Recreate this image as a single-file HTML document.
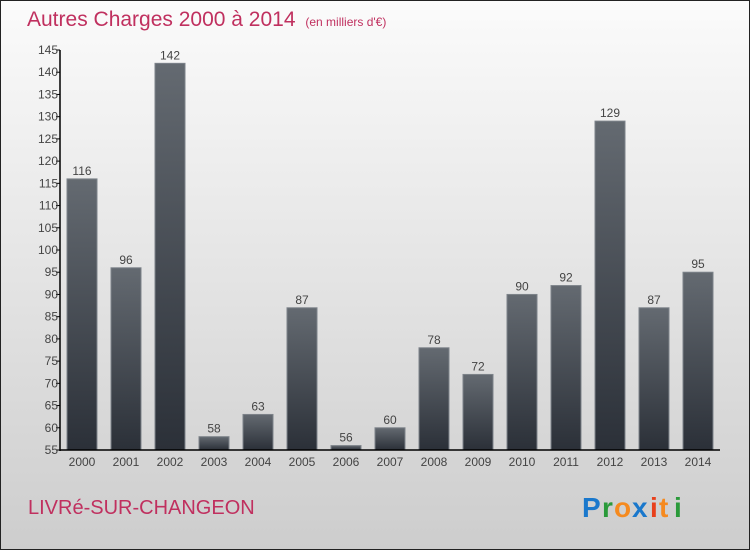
<!DOCTYPE html>
<html><head><meta charset="utf-8"><style>
body{margin:0}
#c{width:750px;height:550px;position:relative;box-sizing:border-box;border:1px solid #222;background:linear-gradient(#fbfbfb,#cdcdcd);font-family:"Liberation Sans",sans-serif;overflow:hidden}
</style></head><body>
<div id="c">
<svg width="750" height="550" style="position:absolute;left:-1px;top:-1px">
<defs><linearGradient id="g" x1="0" y1="0" x2="0" y2="1"><stop offset="0" stop-color="#646a71"/><stop offset="1" stop-color="#2b3038"/></linearGradient></defs>
<text x="27" y="26" font-size="21" fill="#c0305f">Autres Charges 2000 à 2014 <tspan font-size="12" dx="4">(en milliers d'€)</tspan></text>
<g id="plot"></g>
<text x="28" y="514" font-size="20" fill="#c0305f">LIVRé-SUR-CHANGEON</text>
<g font-size="28" font-weight="bold" font-family="Liberation Sans,sans-serif">
<text x="582" y="517" fill="#1a78cc">P</text><text x="602" y="517" fill="#2a9a3a">r</text><text x="614" y="517" fill="#f58a1f">o</text><text x="632" y="517" fill="#1a78cc">x</text><text x="650" y="517" fill="#e8401c">i</text><text x="659" y="517" fill="#f58a1f">t</text><text x="674" y="517" fill="#2a9a3a">i</text></g>
</svg>
</div>
<script>
const categories=["2000","2001","2002","2003","2004","2005","2006","2007","2008","2009","2010","2011","2012","2013","2014"];
const values=[116,96,142,58,63,87,56,60,78,72,90,92,129,87,95];
const yTicks=[55,60,65,70,75,80,85,90,95,100,105,110,115,120,125,130,135,140,145];
const yMin=55,yMax=145,plotTop=50,plotBot=450,x0=60;
const y=v=>plotBot-(v-yMin)/(yMax-yMin)*(plotBot-plotTop);
const xc=i=>82+i*44;
const g=document.getElementById('plot');const NS="http://www.w3.org/2000/svg";
function mk(t,a,txt){const e=document.createElementNS(NS,t);for(const k in a)e.setAttribute(k,a[k]);if(txt!=null)e.textContent=txt;g.appendChild(e);return e;}
values.forEach((v,i)=>{
const r=mk('rect',{x:xc(i)-15,y:y(v),width:30,height:plotBot-y(v),fill:'url(#g)',stroke:'#7d838a','stroke-width':1});


const t=mk('text',{x:xc(i),y:y(v)-4,'text-anchor':'middle','font-size':12,fill:'#444'},String(v));


const c=mk('text',{x:xc(i),y:466,'text-anchor':'middle','font-size':12,fill:'#444'},categories[i]);


});
yTicks.forEach(v=>{
const l=mk('line',{x1:x0-4,x2:x0,y1:y(v),y2:y(v),stroke:'#000'});


const t=mk('text',{x:x0-2,y:y(v)+4,'text-anchor':'end','font-size':12,fill:'#444'},String(v));


});
const ya=mk('line',{x1:x0,x2:x0,y1:plotTop,y2:plotBot+1,stroke:'#000','stroke-width':1.5});


const xa=mk('line',{x1:x0,x2:720,y1:plotBot,y2:plotBot,stroke:'#000','stroke-width':1.5});


</script>
</body></html>
